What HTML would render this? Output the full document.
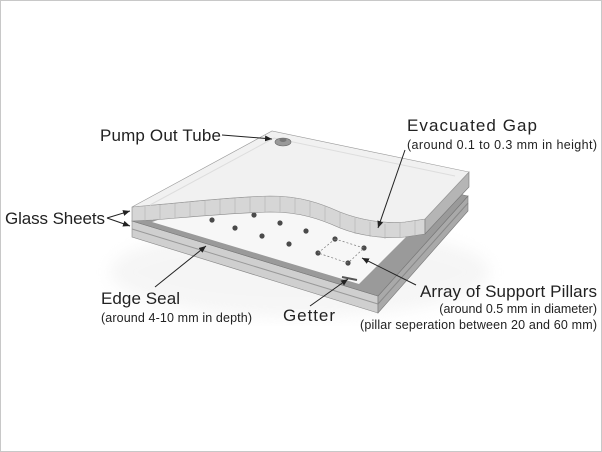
<!DOCTYPE html>
<html><head><style>
body{margin:0;background:#fff;}
.w{position:relative;width:600px;height:450px;border:1px solid #c8c8c8;overflow:hidden;background:#fff;font-family:"Liberation Sans",sans-serif;color:#222;}
</style></head><body><div class="w">
<svg width="602" height="452" viewBox="0 0 602 452" style="position:absolute;left:-1px;top:-1px">
<defs>
<marker id="a" markerWidth="8" markerHeight="8" refX="7" refY="4" orient="auto" markerUnits="userSpaceOnUse"><path d="M0,1 L7,4 L0,7 z" fill="#222"/></marker>
<filter id="b"><feGaussianBlur stdDeviation="8"/></filter>
</defs>
<ellipse cx="300" cy="272" rx="190" ry="45" fill="#e4e4e4" filter="url(#b)" opacity="0.35"/>
<!-- bottom sheet -->
<polygon points="132,221 378,296 378,313 132,237" fill="#cfcfcf" stroke="#888" stroke-width="0.6"/>
<line x1="132" y1="229" x2="378" y2="304" stroke="#999" stroke-width="1"/>
<polygon points="378,296 468,196 468,211 378,313" fill="#a9a9a9" stroke="#777" stroke-width="0.6"/>
<line x1="378" y1="304" x2="468" y2="203" stroke="#888" stroke-width="1"/>
<polygon points="132,221 300,160 468,196 378,296" fill="#9a9a9a" stroke="#777" stroke-width="0.6"/>
<polygon points="152,222 300,170 445,198 359,284" fill="#f7f7f7"/>
<g fill="#4a4a4a">
<circle cx="212" cy="220" r="2.6"/><circle cx="254" cy="215" r="2.6"/><circle cx="280" cy="223" r="2.6"/>
<circle cx="235" cy="228" r="2.6"/><circle cx="262" cy="236" r="2.6"/><circle cx="306" cy="231" r="2.6"/>
<circle cx="289" cy="244" r="2.6"/><circle cx="335" cy="239" r="2.6"/><circle cx="318" cy="253" r="2.6"/>
<circle cx="364" cy="248" r="2.6"/><circle cx="348" cy="263" r="2.6"/><circle cx="377" cy="233" r="2.6"/>
</g>
<polygon points="335,239 364,248 348,263 318,253" fill="none" stroke="#777" stroke-width="0.7" stroke-dasharray="2,2"/>
<line x1="342" y1="277" x2="357" y2="280" stroke="#555" stroke-width="2"/>
<!-- top sheet -->
<path d="M132,207 L153,205 C190,202 230,197 270,196 C300,196 320,203 340,212 C360,220 385,224 405,222 L425,219 L425,234 L405,237 C385,239 360,236 340,228 C320,219 300,212 270,212 C230,213 190,217 153,220 L132,221 Z" fill="#d6d6d6" stroke="#888" stroke-width="0.6"/>
<g stroke="#aaa" stroke-width="0.5">
<line x1="145" y1="206" x2="145" y2="221"/><line x1="160" y1="204" x2="160" y2="219"/><line x1="175" y1="203" x2="175" y2="218"/><line x1="190" y1="202" x2="190" y2="217"/><line x1="205" y1="200" x2="205" y2="215"/><line x1="220" y1="199" x2="220" y2="214"/><line x1="235" y1="198" x2="235" y2="213"/><line x1="250" y1="197" x2="250" y2="212"/><line x1="265" y1="196" x2="265" y2="212"/><line x1="280" y1="196" x2="280" y2="212"/><line x1="295" y1="197" x2="295" y2="213"/><line x1="310" y1="200" x2="310" y2="216"/><line x1="325" y1="205" x2="325" y2="221"/><line x1="340" y1="212" x2="340" y2="228"/><line x1="355" y1="218" x2="355" y2="234"/><line x1="370" y1="222" x2="370" y2="237"/><line x1="385" y1="224" x2="385" y2="239"/><line x1="400" y1="223" x2="400" y2="238"/><line x1="415" y1="221" x2="415" y2="236"/>
</g>
<polygon points="469,172 469,187 425,234 425,219" fill="#b5b5b5" stroke="#777" stroke-width="0.6"/>
<path d="M132,207 L272,131 L469,172 L425,219 L405,222 C385,224 360,220 340,212 C320,203 300,196 270,196 C230,197 190,202 153,205 Z" fill="#f1f1f1" stroke="#999" stroke-width="0.6"/>
<path d="M150,205 L274,138 L455,176" fill="none" stroke="#ddd" stroke-width="1"/>
<ellipse cx="283" cy="142" rx="8" ry="4" fill="#999" stroke="#666" stroke-width="0.6"/>
<ellipse cx="283" cy="140" rx="3.5" ry="2" fill="#777"/>
<g stroke="#222" stroke-width="1" fill="none">
<line x1="222" y1="135" x2="272" y2="139" marker-end="url(#a)"/>
<line x1="405" y1="150" x2="378" y2="228" marker-end="url(#a)"/>
<polyline points="107,218 130,211" marker-end="url(#a)"/>
<polyline points="107,218 130,226" marker-end="url(#a)"/>
<line x1="155" y1="287" x2="206" y2="246" marker-end="url(#a)"/>
<line x1="310" y1="306" x2="348" y2="279" marker-end="url(#a)"/>
<line x1="416" y1="285" x2="362" y2="258" marker-end="url(#a)"/>
</g>
<g fill="#222">
<text x="100" y="141" font-size="17" textLength="121">Pump Out Tube</text>
<text x="407" y="131" font-size="17" textLength="130">Evacuated Gap</text>
<text x="407" y="149" font-size="12.5" textLength="190">(around 0.1 to 0.3 mm in height)</text>
<text x="5" y="224" font-size="17" textLength="100">Glass Sheets</text>
<text x="101" y="304" font-size="17" textLength="79">Edge Seal</text>
<text x="101" y="322" font-size="12.5" textLength="151">(around 4-10 mm in depth)</text>
<text x="283" y="321" font-size="17" textLength="52">Getter</text>
<text x="420" y="297" font-size="17" textLength="177">Array of Support Pillars</text>
<text x="597" y="313" font-size="12.5" text-anchor="end">(around 0.5 mm in diameter)</text>
<text x="360" y="329" font-size="12.5" textLength="237">(pillar seperation between 20 and 60 mm)</text>
</g>
</svg>
</div></body></html>
